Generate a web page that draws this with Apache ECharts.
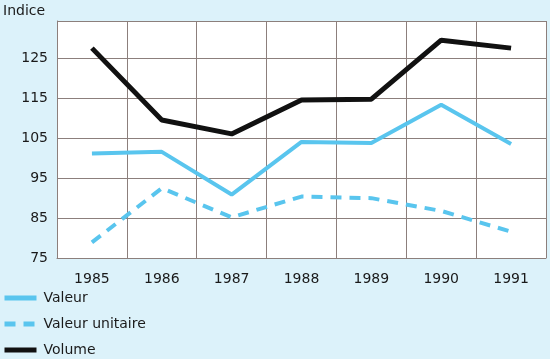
<!DOCTYPE html>
<html><head><meta charset="utf-8">
<script src="https://cdn.jsdelivr.net/npm/echarts@6/dist/echarts.min.js"></script>
<style>html,body{margin:0;padding:0;background:#dcf2fa;}#c{width:550px;height:359px;}</style>
</head><body><div id="c"></div>
<script>
var years = ['1985','1986','1987','1988','1989','1990','1991'];
var valeur = [101.2, 101.6, 90.9, 104.1, 103.8, 113.4, 103.6];
var valeurUnitaire = [78.9, 92.5, 85.2, 90.4, 90.0, 86.8, 81.6];
var volume = [127.6, 109.6, 106.1, 114.6, 114.8, 129.6, 127.6];
var yTicks = [75, 85, 95, 105, 115, 125];

var chart = echarts.init(document.getElementById('c'));
var lineBlue = '#59c5ee';
chart.setOption({
  backgroundColor: '#dcf2fa',
  animation: false,
  textStyle: {fontFamily: 'DejaVu Sans, sans-serif'},
  title: {text: 'Indice', left: 3, top: 4, padding: 0, textStyle: {fontSize: 14, fontWeight: 'normal', color: '#1a1a1a'}},
  grid: {left: 57, right: 4, top: 21, bottom: 101, show: true, backgroundColor: '#ffffff', borderWidth: 0},
  legend: {
    orient: 'vertical', left: 2, top: 291, height: 68, itemWidth: 32, itemHeight: 14, itemGap: 12,
    padding: 0,
    itemStyle: {opacity: 0},
    lineStyle: {width: 5},
    textStyle: {fontSize: 14, color: '#1a1a1a', padding: [0,0,0,2]},
    data: ['Valeur', 'Valeur unitaire', 'Volume']
  },
  xAxis: {
    type: 'category', data: years, boundaryGap: true,
    axisLine: {show: true, lineStyle: {color: '#8c7f7c', width: 1}},
    axisTick: {show: false},
    splitLine: {show: true, lineStyle: {color: '#8c7f7c', width: 1}},
    axisLabel: {fontSize: 14, color: '#1a1a1a', margin: 14, interval: 0}
  },
  yAxis: {
    type: 'value', min: 75, max: 134.4, interval: 10,
    axisLine: {show: true, lineStyle: {color: '#8c7f7c', width: 1}},
    axisTick: {show: false},
    splitLine: {show: true, lineStyle: {color: '#8c7f7c', width: 1}},
    axisLabel: {fontSize: 14, color: '#1a1a1a', margin: 9, showMaxLabel: false,
      formatter: function (v) { return yTicks.indexOf(v) >= 0 ? String(v) : ''; }}
  },
  series: [
    {name: 'Valeur', type: 'line', data: valeur, symbol: 'none',
     lineStyle: {color: lineBlue, width: 4}, itemStyle: {color: lineBlue}},
    {name: 'Valeur unitaire', type: 'line', data: valeurUnitaire, symbol: 'none',
     lineStyle: {color: lineBlue, width: 4, type: [11, 8]}, itemStyle: {color: lineBlue}},
    {name: 'Volume', type: 'line', data: volume, symbol: 'none',
     lineStyle: {color: '#111111', width: 5}, itemStyle: {color: '#111111'}}
  ]
});
</script></body></html>
